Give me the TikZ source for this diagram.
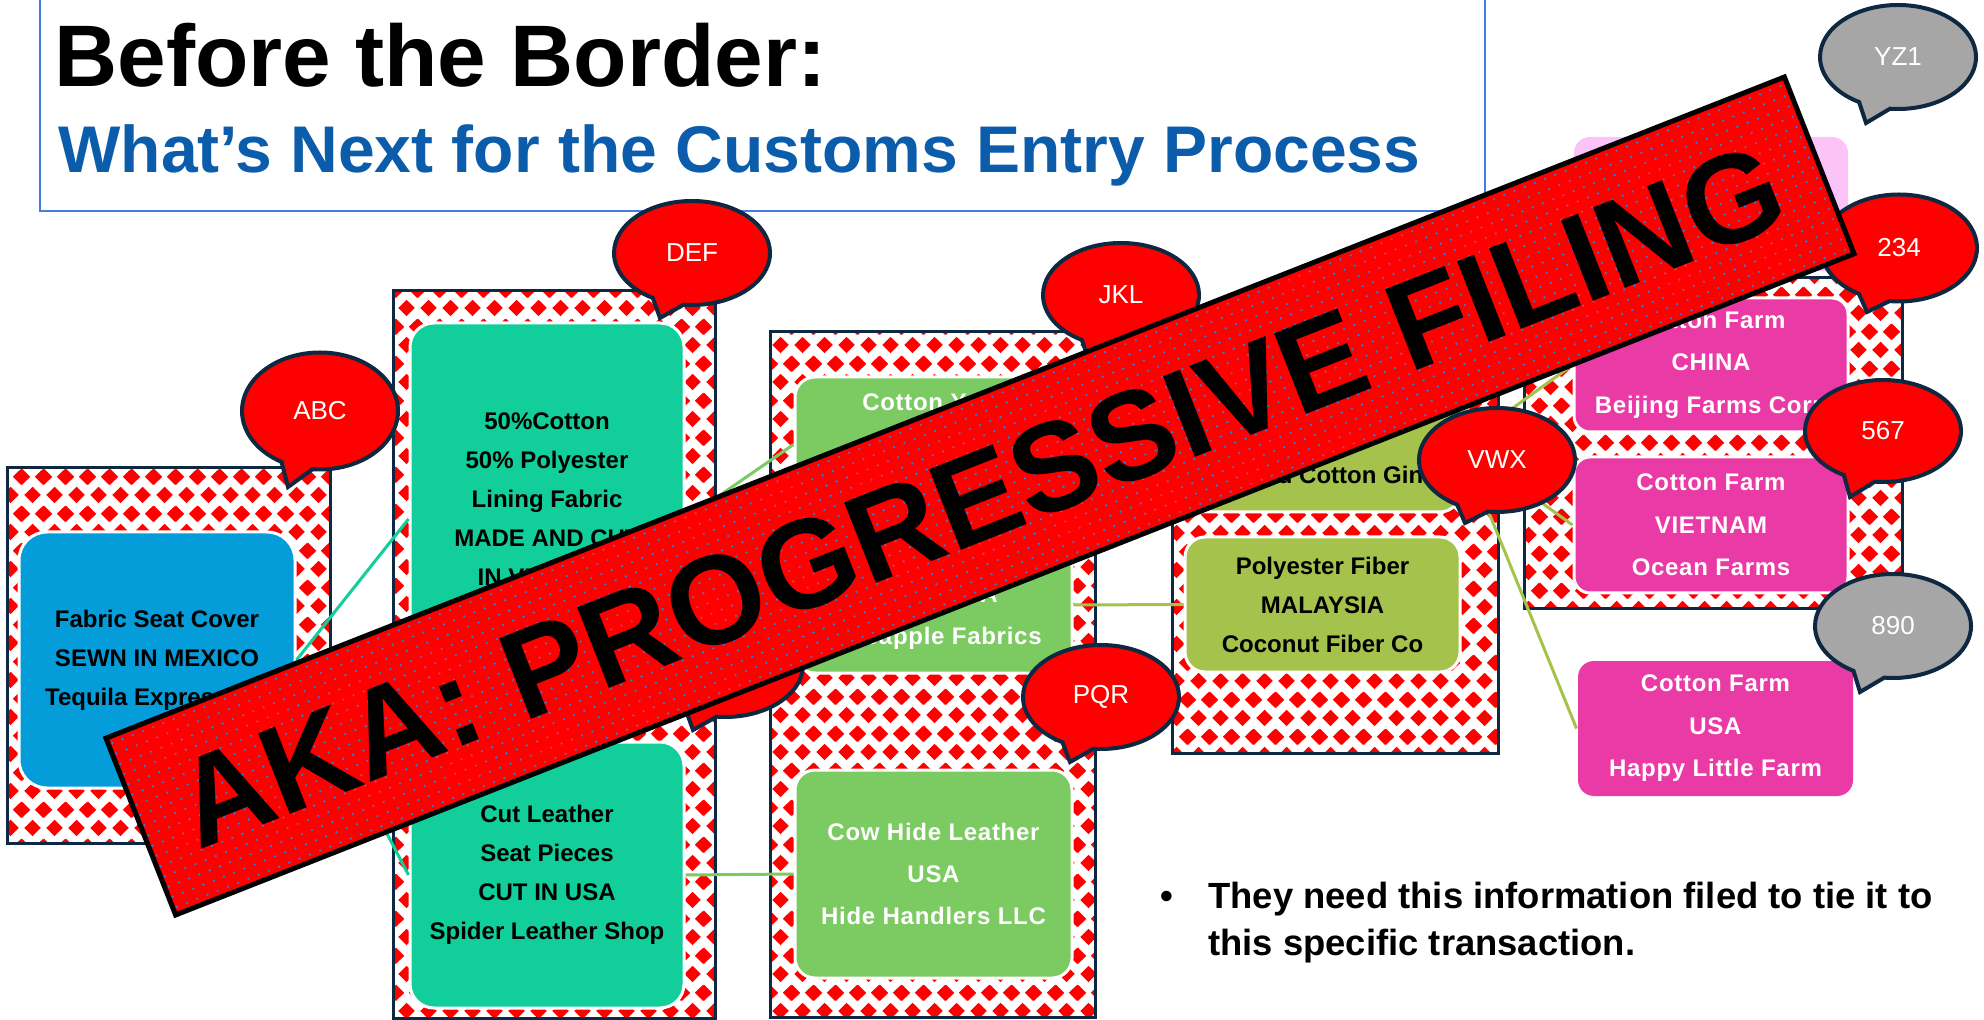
\documentclass[tikz,border=0pt]{standalone}
\usepackage{fontspec}
\setmainfont{Liberation Sans}
\newfontfamily\widesans[LetterSpace=3]{Liberation Sans}
\usepackage{tikz}
\usetikzlibrary{positioning,shapes.callouts,patterns}

\definecolor{navy}{HTML}{0E2841}
\definecolor{tilered}{HTML}{FF0000}
\definecolor{seatblue}{HTML}{059DD9}
\definecolor{millteal}{HTML}{12CE9A}
\definecolor{yarngreen}{HTML}{7CCA62}
\definecolor{fiberolive}{HTML}{A5C24C}
\definecolor{farmpink}{HTML}{EA3AA5}
\definecolor{fadedpink}{HTML}{FBC3F7}
\definecolor{taggray}{HTML}{A6A6A6}
\definecolor{titleblue}{HTML}{0B5CAB}
\definecolor{titleframe}{HTML}{4A7BE0}
\definecolor{dotblue}{HTML}{3A77D0}

\newcommand\tilegem[2]{%
  \pgfpathmoveto{\pgfpoint{#1pt+4.3pt}{#2pt}}%
  \pgfpathlineto{\pgfpoint{#1pt}{#2pt+4.1pt}}%
  \pgfpathlineto{\pgfpoint{#1pt-4.3pt}{#2pt}}%
  \pgfpathlineto{\pgfpoint{#1pt}{#2pt-4.1pt}}%
  \pgfpathclose}

\pgfdeclarepatternformonly{redtiles}{\pgfpointorigin}{\pgfqpoint{11pt}{18.3pt}}{\pgfqpoint{11pt}{18.3pt}}{%
  \tilegem{5.5}{4.575}%
  \tilegem{0}{13.725}%
  \tilegem{11}{13.725}%
  \pgfusepath{fill}}

\tikzset{
  frame/.style={draw=navy, line width=1.5pt, preaction={fill=white}, pattern=redtiles, pattern color=tilered},
  box/.style={draw=white, line width=1.5pt, rounded corners=10pt, align=center, inner sep=0pt, text=black, font=\bfseries\fontsize{12}{19.5}\selectfont},
  whitebox/.style={box, text=white, font=\widesans\bfseries\fontsize{12}{21.2}\selectfont},
  bubble/.style={ellipse callout, draw=navy, line width=2pt, fill=tilered, text=white, inner sep=0pt, minimum width=78pt, minimum height=52pt, callout pointer arc=24, font=\fontsize{13}{15}\selectfont},
  link/.style={line width=1.5pt},
  bullettext/.style={anchor=base west, inner sep=0pt, font=\bfseries\fontsize{18.2}{22}\selectfont}
}

\begin{document}
\begin{tikzpicture}[x=0.5pt, y=-0.5pt]
            \useasboundingbox (0,0) rectangle (1984,1020);

            \draw [titleframe, line width=1pt] (40,-10) rectangle (1485,211);
            \node [anchor=base west, inner sep=0pt, font=\bfseries\fontsize{43.7}{50}\selectfont] (title) at (54,87) {Before the Border:};
            \node [anchor=base west, inner sep=0pt, text=titleblue, font=\bfseries\fontsize{33}{38}\selectfont] (subtitle) at (58,173) {What’s Next for the Customs Entry Process};

            \path [frame] (7,468) rectangle (330,843);
            \path [frame] (393,291) rectangle (715,1018);
            \path [frame] (770,332) rectangle (1095,1017);
            \path [frame] (1172,333) rectangle (1498,753);
            \path [frame] (1524,278) rectangle (1902,608);

            \node [box, fill=seatblue, rounded corners=14pt, minimum width=138pt, minimum height=128pt] (seat) at (157,660) {Fabric Seat Cover\\SEWN IN MEXICO\\Tequila Express Inc};
            \node [box, fill=millteal, rounded corners=12pt, minimum width=137pt, minimum height=196pt] (lining) at (547,519) {50\%Cotton\\50\% Polyester\\Lining Fabric\\MADE AND CUT\\IN VIETNAM\\Lakeside Textiles};
            \node [box, fill=millteal, rounded corners=12pt, minimum width=137pt, minimum height=133pt] (leather) at (547,875) {Cut Leather\\Seat Pieces\\CUT IN USA\\Spider Leather Shop};

            \node [whitebox, fill=yarngreen, minimum width=138.5pt, minimum height=67.5pt] (yarn) at (933.5,444.5) {Cotton Yarn\\VIETNAM\\~};
            \node [whitebox, fill=yarngreen, minimum width=138.5pt, minimum height=68pt] (polyyarn) at (933.5,605) {~\\MALAYSIA\\Pineapple Fabrics};
            \node [whitebox, fill=yarngreen, minimum width=138.5pt, minimum height=104pt] (hide) at (933.5,874) {Cow Hide Leather\\USA\\Hide Handlers LLC};

            \node [box, fill=fiberolive, minimum width=137.5pt, minimum height=67pt] (cotfiber) at (1322.5,445) {~\\VIETNAM\\Grand Cotton Gin};
            \node [box, fill=fiberolive, minimum width=137.5pt, minimum height=67.5pt] (polyfiber) at (1322.5,604.5) {Polyester Fiber\\MALAYSIA\\Coconut Fiber Co};

            \node [whitebox, fill=fadedpink, draw=none, rounded corners=8pt, minimum width=137pt, minimum height=67pt] (faded) at (1711,204) {};
            \node [whitebox, fill=farmpink, rounded corners=8pt, minimum width=137pt, minimum height=67pt] (china) at (1711,365) {Cotton Farm\\CHINA\\Beijing Farms Corp};
            \node [whitebox, fill=farmpink, rounded corners=8pt, minimum width=137pt, minimum height=68pt] (vietnam) at (1711,525) {Cotton Farm\\VIETNAM\\Ocean Farms};
            \node [whitebox, fill=farmpink, draw=none, rounded corners=8pt, minimum width=137.5pt, minimum height=67.5pt] (usa) at (1715.5,728.5) {Cotton Farm\\USA\\Happy Little Farm};

            \draw [link, millteal] (seat.east) -- (lining.west);
            \draw [link, millteal] (seat.east) -- (leather.west);
            \draw [link, yarngreen] (lining.east) -- (yarn.west);
            \draw [link, yarngreen] (leather.east) -- (hide.west);
            \draw [link, fiberolive] (polyyarn.east) -- (polyfiber.west);
            \draw [link, fiberolive] (cotfiber.east) -- (china.west);
            \draw [link, fiberolive] (cotfiber.east) -- (vietnam.west);
            \draw [link, fiberolive] (cotfiber.east) -- (usa.west);

            \node [bubble, minimum height=58.5pt, callout absolute pointer={(288,487)}] (tagabc) at (320,411) {ABC};
            \node [bubble, callout absolute pointer={(660,318)}] (tagdef) at (692,253) {DEF};
            \node [bubble, callout absolute pointer={(693,730)}] (tagghi) at (725,665) {};
            \node [bubble, callout absolute pointer={(1089,360)}] (tagjkl) at (1121,295) {JKL};
            \node [bubble, callout absolute pointer={(1070,762)}] (tagpqr) at (1101,697) {PQR};
            \node [bubble, callout absolute pointer={(1465,523)}] (tagvwx) at (1497,460) {VWX};
            \node [bubble, minimum height=53.5pt, callout absolute pointer={(1867,312)}] (tag234) at (1899,248) {234};
            \node [bubble, minimum height=51pt, callout absolute pointer={(1850,497)}] (tag567) at (1883,431) {567};
            \node [bubble, fill=taggray, callout absolute pointer={(1860,692)}] (tag890) at (1893,626) {890};
            \node [bubble, fill=taggray, callout absolute pointer={(1866,123)}] (tagyz1) at (1898,57) {YZ1};

            \node [bullettext] (dot) at (1160,908) {•};
            \node [bullettext] (line1) at (1208,908) {They need this information filed to tie it to};
            \node [bullettext] (line2) at ([yshift=-23.5pt]line1.base west) {this specific transaction.};

            \begin{scope}[shift={(980,496)}, rotate=21.5]
                \draw [line width=2.5pt, fill=tilered] (-902,-95) rectangle (902,95);
                \foreach \row in {-88,-77,...,88}
                    \draw [dotblue, line width=1.3pt, line cap=round, dash pattern=on 0pt off 5.5pt] (-898,\row) -- (898,\row);
                \node [transform shape, font=\bfseries\fontsize{63}{70}\selectfont] (banner) at (0,0) {AKA: PROGRESSIVE FILING};
            \end{scope}
        \end{tikzpicture}
\end{document}
